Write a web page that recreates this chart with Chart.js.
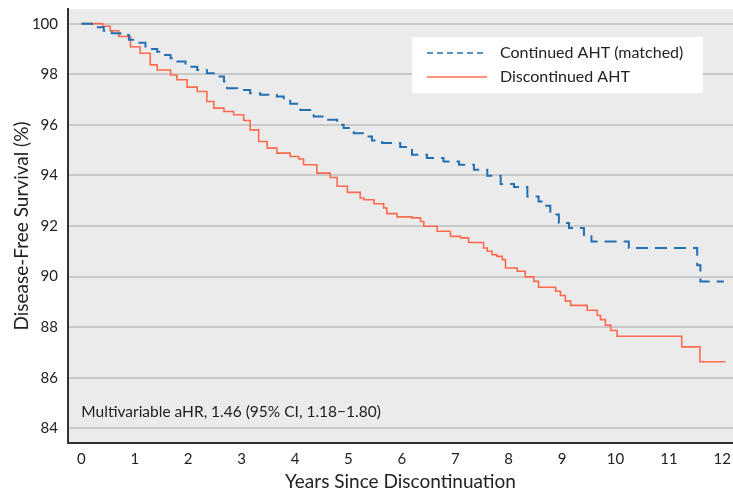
<!DOCTYPE html>
<html>
<head>
<meta charset="utf-8">
<script src="https://cdn.jsdelivr.net/npm/chart.js@4/dist/chart.umd.min.js"></script>
<style>
  html, body { margin: 0; padding: 0; background: #fff; }
  #wrap { width: 733px; height: 494px; }
</style>
</head>
<body>
<div id="wrap"><canvas id="dfsChart"></canvas></div>
<script>
// Kaplan-Meier style step curves
const contYears = [0, 0.20, 0.42, 0.57, 0.73, 0.89, 1.01, 1.20, 1.42, 1.48, 1.67, 1.76, 1.95, 2.17, 2.35, 2.51, 2.67, 2.73, 2.92, 3.16, 3.35, 3.66, 3.79, 3.91, 4.10, 4.35, 4.60, 4.79, 4.91, 5.04, 5.10, 5.29, 5.44, 5.63, 5.97, 6.19, 6.47, 6.78, 7.07, 7.35, 7.60, 7.85, 8.10, 8.35, 8.56, 8.66, 8.78, 8.94, 9.13, 9.41, 9.55, 10.25, 11.53, 11.59, 12.03];
const contDFS = [100, 99.86, 99.72, 99.62, 99.55, 99.36, 99.25, 99.00, 98.89, 98.76, 98.63, 98.50, 98.30, 98.17, 98.04, 97.91, 97.71, 97.45, 97.38, 97.25, 97.19, 97.12, 96.99, 96.83, 96.59, 96.33, 96.20, 96.00, 95.87, 95.80, 95.67, 95.54, 95.38, 95.28, 95.12, 94.82, 94.69, 94.55, 94.42, 94.22, 93.99, 93.66, 93.54, 93.17, 92.97, 92.80, 92.45, 92.12, 91.92, 91.59, 91.39, 91.13, 90.45, 89.81, 89.81];

const discYears = [0, 0.36, 0.40, 0.54, 0.70, 0.92, 1.10, 1.29, 1.42, 1.67, 1.79, 1.98, 2.17, 2.35, 2.48, 2.67, 2.85, 3.04, 3.16, 3.32, 3.48, 3.66, 3.91, 4.07, 4.16, 4.41, 4.66, 4.79, 4.98, 5.22, 5.29, 5.48, 5.66, 5.72, 5.91, 6.19, 6.35, 6.41, 6.66, 6.91, 7.10, 7.25, 7.53, 7.60, 7.69, 7.78, 7.88, 7.94, 8.16, 8.31, 8.47, 8.56, 8.88, 8.97, 9.06, 9.16, 9.47, 9.66, 9.72, 9.81, 9.91, 10.03, 11.24, 11.58, 12.06];
const discDFS = [100, 100, 99.90, 99.72, 99.49, 99.09, 98.83, 98.37, 98.17, 97.97, 97.78, 97.49, 97.32, 96.92, 96.66, 96.53, 96.40, 96.17, 95.80, 95.34, 95.08, 94.88, 94.75, 94.65, 94.42, 94.09, 93.92, 93.57, 93.33, 93.11, 93.04, 92.88, 92.71, 92.49, 92.36, 92.32, 92.18, 91.99, 91.79, 91.59, 91.53, 91.35, 91.13, 91.00, 90.87, 90.80, 90.67, 90.34, 90.21, 89.99, 89.81, 89.58, 89.42, 89.25, 89.03, 88.86, 88.67, 88.46, 88.30, 88.08, 87.87, 87.64, 87.22, 86.63, 86.63];

const xTicks = [0, 1, 2, 3, 4, 5, 6, 7, 8, 9, 10, 11, 12];
const yTicks = [84, 86, 88, 90, 92, 94, 96, 98, 100];

const seriesNames = ['Continued AHT (matched)', 'Discontinued AHT'];
const noteText = 'Multivariable aHR, 1.46 (95% CI, 1.18\u22121.80)';

const BLUE = '#2371b3';
const RED = '#ff6b4e';
const FONT = 'Lato, "Open Sans", sans-serif';

const toPoints = (xs, ys) => xs.map((x, i) => ({ x: x, y: ys[i] }));

// gray panel behind the plot
const panelBg = {
    id: 'panelBg',
    beforeDraw(chart) {
        const a = chart.chartArea;
        const c = chart.ctx;
        c.save();
        c.fillStyle = '#ebebeb';
        c.fillRect(a.left, a.top, a.right - a.left, a.bottom - a.top);
        c.restore();
    }
};

// boxed legend + hazard ratio note
const extras = {
    id: 'extras',
    afterDraw(chart) {
        const c = chart.ctx;
        const a = chart.chartArea;
        const bx = a.right - 321, by = a.top + 28;
        c.save();
        c.fillStyle = '#ffffff';
        c.fillRect(bx, by, 291, 56);

        c.font = '16px ' + FONT;
        c.textBaseline = 'middle';
        c.textAlign = 'left';
        c.fillStyle = '#222';

        c.lineWidth = 1.5;
        c.strokeStyle = BLUE;
        c.setLineDash([6, 4]);
        c.beginPath(); c.moveTo(bx + 15, by + 16); c.lineTo(bx + 75, by + 16); c.stroke();
        c.setLineDash([]);
        c.strokeStyle = RED;
        c.beginPath(); c.moveTo(bx + 15, by + 40); c.lineTo(bx + 75, by + 40); c.stroke();

        c.fillText(seriesNames[0], bx + 88, by + 16);
        c.fillText(seriesNames[1], bx + 88, by + 40);

        const x = chart.scales.x, y = chart.scales.y;
        c.font = '15.5px ' + FONT;
        c.fillText(noteText, x.getPixelForValue(0), y.getPixelForValue(84) - 16);
        c.restore();
    }
};

const ctx = document.getElementById('dfsChart');
new Chart(ctx, {
    type: 'line',
    data: {
        datasets: [{
            label: seriesNames[0],
            data: toPoints(contYears, contDFS),
            borderColor: BLUE,
            borderWidth: 2,
            borderDash: [12, 7],
            stepped: true,
            pointRadius: 0,
            fill: false
        }, {
            label: seriesNames[1],
            data: toPoints(discYears, discDFS),
            borderColor: RED,
            borderWidth: 1.6,
            stepped: true,
            pointRadius: 0,
            fill: false
        }]
    },
    options: {
        responsive: true,
        maintainAspectRatio: false,
        animation: false,
        layout: { padding: { top: 9, right: 0, left: 0, bottom: 0 } },
        plugins: {
            legend: { display: false },
            tooltip: { enabled: false }
        },
        scales: {
            x: {
                type: 'linear',
                min: -0.25,
                max: 12.2,
                afterBuildTicks: s => { s.ticks = xTicks.map(v => ({ value: v })); },
                afterFit: s => { s.height = 51; s.paddingLeft = 0; s.paddingRight = 0; },
                grid: { display: false, drawTicks: false },
                border: { display: true, color: '#333', width: 2 },
                ticks: { color: '#222', font: { family: FONT, size: 15 }, padding: 7 },
                title: {
                    display: true,
                    text: 'Years Since Discontinuation',
                    color: '#222',
                    font: { family: FONT, size: 19 },
                    padding: { top: 0, bottom: 1 }
                }
            },
            y: {
                type: 'linear',
                min: 83.42,
                max: 100.58,
                afterBuildTicks: s => { s.ticks = yTicks.map(v => ({ value: v })); },
                afterFit: s => { s.width = 68; s.paddingTop = 0; s.paddingBottom = 0; },
                grid: { color: '#c8c8c8', lineWidth: 2, drawTicks: false },
                border: { display: true, color: '#333', width: 2 },
                ticks: { color: '#222', font: { family: FONT, size: 15 }, padding: 10 },
                title: {
                    display: true,
                    text: 'Disease-Free Survival (%)',
                    color: '#222',
                    font: { family: FONT, size: 19 },
                    padding: { top: 10, bottom: 0 }
                }
            }
        }
    },
    plugins: [panelBg, extras]
});
</script>
</body>
</html>
